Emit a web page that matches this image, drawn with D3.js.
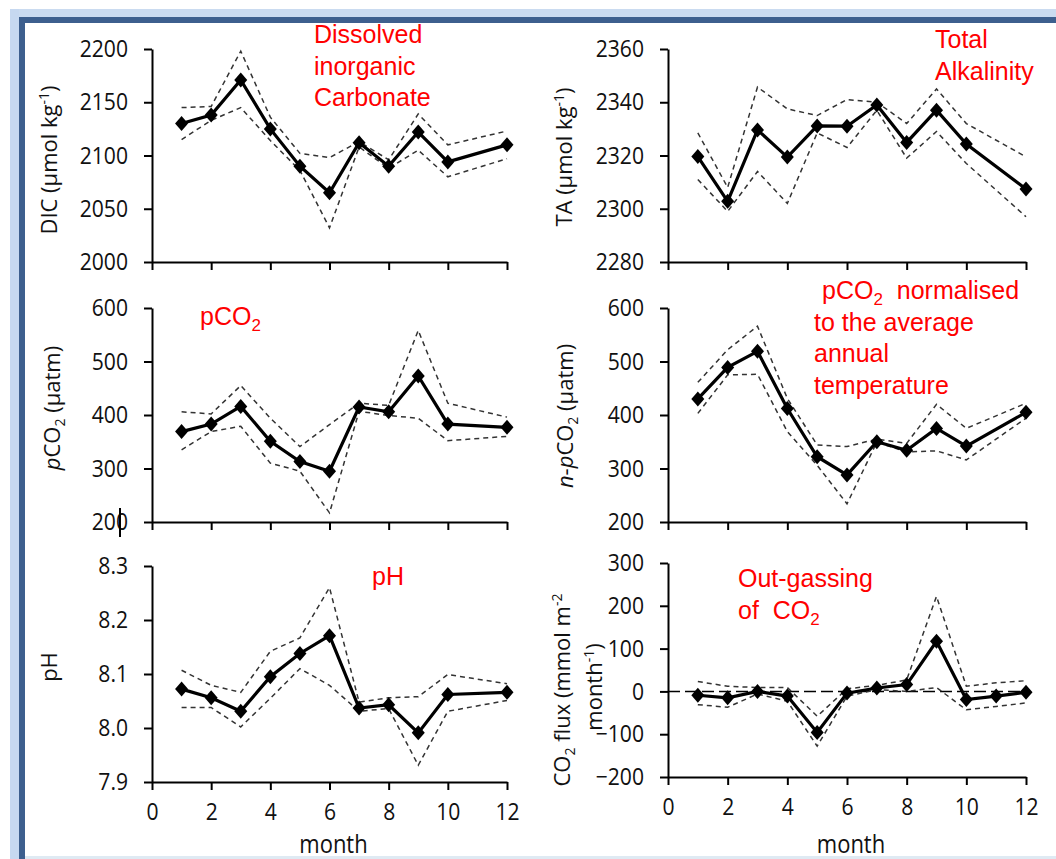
<!DOCTYPE html>
<html>
<head>
<meta charset="utf-8">
<script src="https://cdn.jsdelivr.net/npm/d3@7"></script>
<style>
  html, body { margin: 0; padding: 0; background: #fff; }
  svg { display: block; }
  .tick text { font-family: "Open Sans", sans-serif; font-size: 24px; fill: #111; }
  .axis path, .axis line { stroke: #000; stroke-width: 2; }
  .ylab, .xlab { font-family: "Open Sans", sans-serif; fill: #111; }
  .note { font-family: "Liberation Sans", Arial, sans-serif; font-size: 25px; fill: #ff0000; }
</style>
</head>
<body>
<svg id="chart" width="1056" height="859"></svg>
<script>
(function () {
  'use strict';

  // months, 11 is missing in most series
  var months = [1, 2, 3, 4, 5, 6, 7, 8, 9, 10, 11, 12];

  var dicMean = [2130, 2138, 2171, 2125, 2090, 2065, 2112, 2090, 2122, 2094, null, 2110];
  var dicUpper = [2145, 2146, 2198, 2136, 2102, 2098, 2113, 2096, 2139, 2110, null, 2123];
  var dicLower = [2115, 2133, 2145, 2114, 2086, 2032, 2108, 2088, 2105, 2080, null, 2097];

  var taMean = [2319.6, 2302.8, 2329.6, 2319.4, 2331.1, 2331, 2339, 2324.9, 2337, 2324.3, null, 2307.4];
  var taUpper = [2328.5, 2308, 2345.7, 2337.5, 2335, 2341, 2340, 2332, 2345, 2332, null, 2319.5];
  var taLower = [2311, 2299, 2314, 2302, 2328.5, 2323, 2337, 2319, 2329, 2317, null, 2297];

  var pco2Mean = [369, 383, 416, 351, 313, 295, 415, 406, 473, 383, null, 377];
  var pco2Upper = [406, 402, 455, 394, 341, 382, 422, 418, 558, 422, null, 396];
  var pco2Lower = [335, 369, 379, 310, 295, 217, 407, 399, 394, 352, null, 360];

  var npco2Mean = [430, 489, 519, 412, 322, 288, 350, 334, 375, 342, null, 405];
  var npco2Upper = [461, 522, 566, 431, 344, 341, 355, 347, 420, 375, null, 422];
  var npco2Lower = [403, 475, 476, 369, 306, 234, 349, 331, 333, 316, null, 394];

  var phMean = [8.072, 8.056, 8.031, 8.095, 8.138, 8.171, 8.037, 8.043, 7.991, 8.062, null, 8.066];
  var phUpper = [8.107, 8.079, 8.066, 8.142, 8.167, 8.26, 8.048, 8.056, 8.058, 8.099, null, 8.082];
  var phLower = [8.038, 8.038, 8.002, 8.055, 8.110, 8.079, 8.031, 8.036, 7.931, 8.031, null, 8.051];

  var fluxMean = [-9, -15, 0, -11, -96, -4, 8, 16, 117, -19, -11, -2];
  var fluxUpper = [23, 12, 9, 9, -58, 6, 14, 27, 222, 12, 20, 25];
  var fluxLower = [-31, -37, -6, -23, -128, -11, 4, 0, 9, -43, -35, -27];

  var monthTicks = [0, 2, 4, 6, 8, 10, 12];
  var dicTicks = [2000, 2050, 2100, 2150, 2200];
  var taTicks = [2280, 2300, 2320, 2340, 2360];
  var pco2Ticks = [200, 300, 400, 500, 600];
  var phTicks = [7.9, 8.0, 8.1, 8.2, 8.3];
  var fluxTicks = [-200, -100, 0, 100, 200, 300];

  var svg = d3.select('#chart');
  var SQ = 0.88; // horizontal squeeze of the scanned lettering

  // window frame
  svg.append('rect').attr('x', 10).attr('y', 9).attr('width', 1046).attr('height', 9).attr('fill', '#cadbf0');
  svg.append('rect').attr('x', 10).attr('y', 9).attr('width', 9).attr('height', 850).attr('fill', '#c6d8f0');
  svg.append('rect').attr('x', 19).attr('y', 17).attr('width', 1037).attr('height', 6).attr('fill', '#3d5f8e');
  svg.append('rect').attr('x', 19).attr('y', 17).attr('width', 6).attr('height', 842).attr('fill', '#3d5f8e');
  svg.append('rect').attr('x', 25).attr('y', 856).attr('width', 1031).attr('height', 3).attr('fill', '#dfeaf3');

  var diamond = {
    draw: function (ctx) {
      ctx.moveTo(0, -7.5);
      ctx.lineTo(6.5, 0);
      ctx.lineTo(0, 7.5);
      ctx.lineTo(-6.5, 0);
      ctx.closePath();
    }
  };

  function series(vals) {
    return months.map(function (m, i) { return { m: m, v: vals[i] }; })
      .filter(function (d) { return d.v !== null; });
  }

  function drawPanel(p) {
    var x = d3.scaleLinear().domain([0, 12]).range(p.xr);
    var y = d3.scaleLinear().domain(p.yd).range(p.yr);
    var g = svg.append('g');

    var xAxis = g.append('g')
      .attr('class', 'axis')
      .attr('transform', 'translate(0,' + p.yr[0] + ')')
      .call(d3.axisBottom(x).tickValues(monthTicks).tickSize(8).tickSizeOuter(0).tickPadding(13));
    if (!p.xLabels) {
      xAxis.selectAll('.tick text').remove();
    } else {
      xAxis.selectAll('.tick text').attr('transform', 'scale(' + SQ + ',1)');
    }

    var yAxis = g.append('g')
      .attr('class', 'axis')
      .attr('transform', 'translate(' + p.xr[0] + ',0)')
      .call(d3.axisLeft(y).tickValues(p.ticks).tickSize(8).tickSizeOuter(0)
        .tickFormat(p.fmt || d3.format('d')));
    yAxis.selectAll('.tick text')
      .attr('x', -24 / SQ)
      .attr('transform', 'scale(' + SQ + ',1)');

    if (p.zero) {
      g.append('line')
        .attr('x1', x(0)).attr('x2', x(12))
        .attr('y1', y(0)).attr('y2', y(0))
        .attr('stroke', '#000').attr('stroke-width', 1.5)
        .attr('stroke-dasharray', '12,5');
    }

    var line = d3.line()
      .x(function (d) { return x(d.m); })
      .y(function (d) { return y(d.v); });

    [p.upper, p.lower].forEach(function (vals) {
      g.append('path')
        .datum(series(vals))
        .attr('d', line)
        .attr('fill', 'none')
        .attr('stroke', '#333')
        .attr('stroke-width', 1.5)
        .attr('stroke-dasharray', '5,4');
    });

    g.append('path')
      .datum(series(p.mean))
      .attr('d', line)
      .attr('fill', 'none')
      .attr('stroke', '#000')
      .attr('stroke-width', 3.2);

    g.selectAll('.mk')
      .data(series(p.mean))
      .enter().append('path')
      .attr('class', 'mk')
      .attr('transform', function (d) { return 'translate(' + x(d.m) + ',' + y(d.v) + ')'; })
      .attr('d', d3.symbol().type(diamond))
      .attr('fill', '#000');

    if (p.xLabels) {
      g.append('text')
        .attr('class', 'xlab')
        .attr('transform', 'translate(' + ((p.xr[0] + p.xr[1]) / 2 + 4) + ',853) scale(' + SQ + ',1)')
        .attr('text-anchor', 'middle')
        .style('font-size', '25px')
        .text('month');
    }
  }

  drawPanel({ xr: [152, 507], yr: [262, 49], yd: [2000, 2200], ticks: dicTicks,
    mean: dicMean, upper: dicUpper, lower: dicLower });
  drawPanel({ xr: [668, 1026], yr: [262, 49], yd: [2280, 2360], ticks: taTicks,
    mean: taMean, upper: taUpper, lower: taLower });
  drawPanel({ xr: [152, 507], yr: [522, 308], yd: [200, 600], ticks: pco2Ticks,
    mean: pco2Mean, upper: pco2Upper, lower: pco2Lower });
  drawPanel({ xr: [668, 1026], yr: [522, 308], yd: [200, 600], ticks: pco2Ticks,
    mean: npco2Mean, upper: npco2Upper, lower: npco2Lower });
  drawPanel({ xr: [152, 507], yr: [782, 566], yd: [7.9, 8.3], ticks: phTicks, fmt: d3.format('.1f'),
    mean: phMean, upper: phUpper, lower: phLower, xLabels: true });
  drawPanel({ xr: [668, 1026], yr: [777, 563], yd: [-200, 300], ticks: fluxTicks,
    mean: fluxMean, upper: fluxUpper, lower: fluxLower, xLabels: true, zero: true });

  // scan artefact through the "200" label
  svg.append('line').attr('x1', 120).attr('x2', 120).attr('y1', 508).attr('y2', 537)
    .attr('stroke', '#000').attr('stroke-width', 2);

  // rotated axis titles, parts: [text, kind]
  function yTitle(cx, cy, parts) {
    var t = svg.append('text')
      .attr('class', 'ylab')
      .attr('transform', 'translate(' + cx + ',' + cy + ') rotate(-90)')
      .attr('text-anchor', 'middle')
      .attr('dy', '0.36em')
      .style('font-size', '22px');
    parts.forEach(function (pt) {
      var s = t.append('tspan').text(pt[0]);
      if (pt[1] === 'sup') s.attr('dy', -8).style('font-size', '14px');
      if (pt[1] === 'sub') s.attr('dy', 5).style('font-size', '14px');
      if (pt[1] === 'back') s.attr('dy', pt[2]);
      if (pt[1] === 'it') s.style('font-style', 'italic');
    });
  }

  yTitle(49, 160, [['DIC (\u03bcmol kg'], ['-1', 'sup'], [')', 'back', 8]]);
  yTitle(564, 157, [['TA (\u03bcmol kg'], ['-1', 'sup'], [')', 'back', 8]]);
  yTitle(52, 408, [['p', 'it'], ['CO'], ['2', 'sub'], [' (\u03bcatm)', 'back', -5]]);
  yTitle(565, 416, [['n', 'it'], ['-'], ['p', 'it'], ['CO'], ['2', 'sub'], [' (\u03bcatm)', 'back', -5]]);
  yTitle(49, 667, [['pH']]);
  yTitle(562, 690, [['CO'], ['2', 'sub'], [' flux (mmol m', 'back', -5], ['-2', 'sup']]);
  yTitle(594, 687, [['month'], ['-1', 'sup'], [')', 'back', 8]]);

  // red annotations
  function note(x, y0, lines) {
    lines.forEach(function (ln, i) {
      var t = svg.append('text').attr('class', 'note')
        .attr('x', ln.dx ? x + ln.dx : x).attr('y', y0 + i * 31.5);
      ln.parts.forEach(function (pt) {
        var s = t.append('tspan').text(pt[0]);
        if (pt[1] === 'sub') s.attr('baseline-shift', '-6px').style('font-size', '17px');
      });
    });
  }

  note(314, 43, [{ parts: [['Dissolved']] }, { parts: [['inorganic']] }, { parts: [['Carbonate']] }]);
  note(935, 48, [{ parts: [['Total']] }, { parts: [['Alkalinity']] }]);
  note(200, 325, [{ parts: [['pCO'], ['2', 'sub']] }]);
  note(814, 299, [
    { dx: 8, parts: [['pCO'], ['2', 'sub'], ['\u00a0 normalised']] },
    { parts: [['to the average']] },
    { parts: [['annual']] },
    { parts: [['temperature']] }
  ]);
  note(372, 585, [{ parts: [['pH']] }]);
  note(738, 587, [{ parts: [['Out-gassing']] }, { parts: [['of \u00a0CO'], ['2', 'sub']] }]);
}());
</script>
</body>
</html>
